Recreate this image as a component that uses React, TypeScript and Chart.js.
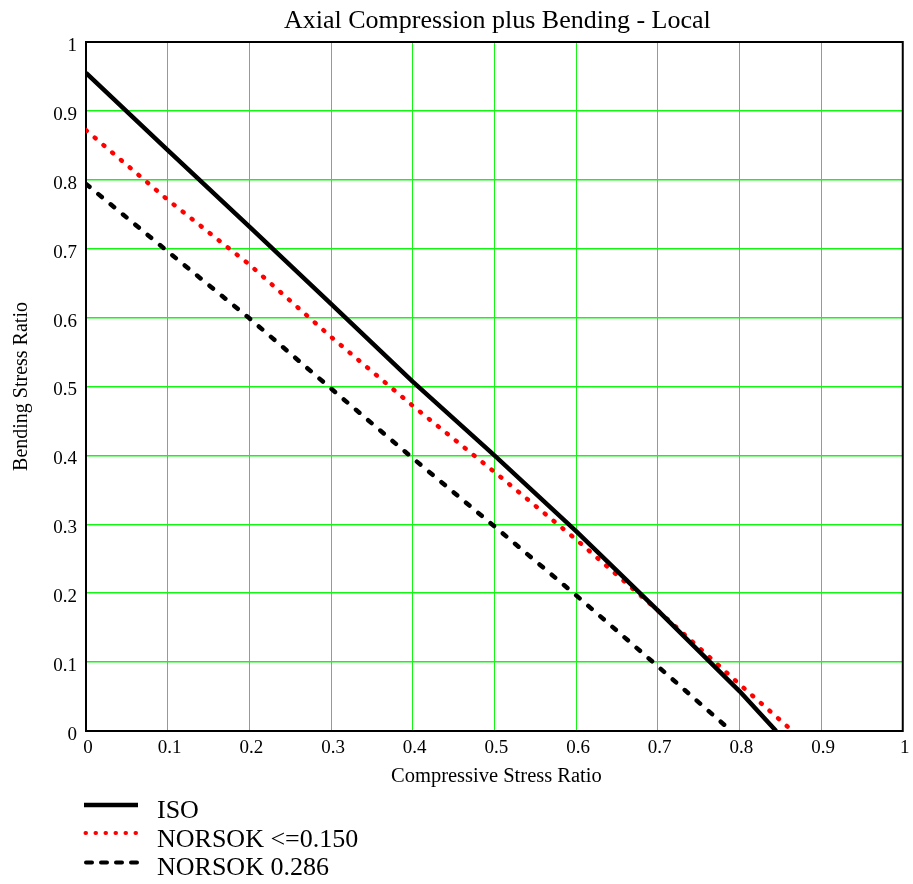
import React, { useEffect, useRef } from 'react';
import { Chart, registerables } from 'chart.js';

Chart.register(...registerables);

const FONT = "'Liberation Serif', 'Times New Roman', serif";

const chartTitle = 'Axial Compression plus Bending - Local';
const xAxisTitle = 'Compressive Stress Ratio';
const yAxisTitle = 'Bending Stress Ratio';

const xTickLabels = ['0', '0.1', '0.2', '0.3', '0.4', '0.5', '0.6', '0.7', '0.8', '0.9', '1'];
const yTickLabels = ['0', '0.1', '0.2', '0.3', '0.4', '0.5', '0.6', '0.7', '0.8', '0.9', '1'];

const seriesNames = ['ISO', 'NORSOK <=0.150', 'NORSOK 0.286'];

const isoX = [0, 0.1, 0.2, 0.3, 0.4, 0.5, 0.6, 0.7, 0.8, 0.845];
const isoY = [0.955, 0.843, 0.732, 0.62, 0.507, 0.4, 0.29, 0.175, 0.058, 0];

const norsok150X = [0, 0.1, 0.2, 0.3, 0.4, 0.5, 0.6, 0.7, 0.8, 0.865];
const norsok150Y = [0.872, 0.771, 0.677, 0.572, 0.472, 0.376, 0.278, 0.175, 0.068, 0];

const norsok286X = [0, 0.1, 0.2, 0.3, 0.4, 0.5, 0.6, 0.7, 0.79];
const norsok286Y = [0.794, 0.696, 0.599, 0.497, 0.396, 0.297, 0.197, 0.094, 0];

const seriesStyles = [
  { color: '#000000', width: 4.5, dash: [] as number[], cap: 'butt' as CanvasLineCap },
  { color: '#ff0000', width: 4.5, dash: [1, 10.5], cap: 'round' as CanvasLineCap },
  { color: '#000000', width: 4.5, dash: [4.5, 11.5], cap: 'round' as CanvasLineCap },
];

const GRID = 'rgb(20,245,20)';

const toPoints = (xs: number[], ys: number[]) => xs.map((x, i) => ({ x, y: ys[i] }));

const decorPlugin = {
  id: 'decor',
  beforeDatasetsDraw(chart: any) {
    const { ctx, chartArea: a } = chart;
    ctx.save();
    ctx.strokeStyle = '#000';
    ctx.lineWidth = 2;
    ctx.strokeRect(a.left, a.top, a.right - a.left, a.bottom - a.top);
    ctx.restore();
  },
  afterDraw(chart: any) {
    const { ctx, chartArea: a } = chart;
    const cx = (a.left + a.right) / 2;
    ctx.save();
    ctx.fillStyle = '#000';
    ctx.textAlign = 'center';
    ctx.textBaseline = 'alphabetic';
    ctx.font = `26px ${FONT}`;
    ctx.fillText(chartTitle, cx + 3, 28);
    ctx.font = `20.5px ${FONT}`;
    ctx.fillText(xAxisTitle, cx + 2, a.bottom + 51);
    ctx.save();
    ctx.translate(27, (a.top + a.bottom) / 2);
    ctx.rotate(-Math.PI / 2);
    ctx.font = `20px ${FONT}`;
    ctx.fillText(yAxisTitle, 0, 0);
    ctx.restore();

    // legend
    const lineY = [805, 833, 862.5];
    const textY = [818.3, 846.7, 875];
    ctx.textAlign = 'left';
    ctx.font = `26px ${FONT}`;
    seriesNames.forEach((name, i) => {
      const s = seriesStyles[i];
      ctx.save();
      ctx.strokeStyle = s.color;
      ctx.lineWidth = i === 0 ? 4.5 : 4;
      ctx.lineCap = s.cap;
      ctx.beginPath();
      if (i === 1) {
        ctx.setLineDash([0.5, 9.5]);
        ctx.moveTo(85.5, lineY[i]);
        ctx.lineTo(137, lineY[i]);
      } else if (i === 2) {
        ctx.setLineDash([6, 9]);
        ctx.moveTo(86, lineY[i]);
        ctx.lineTo(137, lineY[i]);
      } else {
        ctx.setLineDash([]);
        ctx.moveTo(84, lineY[i]);
        ctx.lineTo(138, lineY[i]);
      }
      ctx.stroke();
      ctx.restore();
      ctx.fillStyle = '#000';
      ctx.fillText(name, 157, textY[i]);
    });
    ctx.restore();
  },
};

export default function App() {
  const ref = useRef<HTMLCanvasElement>(null);

  useEffect(() => {
    if (!ref.current) return;
    const seriesData = [
      toPoints(isoX, isoY),
      toPoints(norsok150X, norsok150Y),
      toPoints(norsok286X, norsok286Y),
    ];
    const chart = new Chart(ref.current, {
      type: 'scatter',
      data: {
        datasets: seriesNames.map((name, i) => ({
          label: name,
          data: seriesData[i],
          showLine: true,
          fill: false,
          tension: 0,
          pointRadius: 0,
          pointHoverRadius: 0,
          borderColor: seriesStyles[i].color,
          backgroundColor: seriesStyles[i].color,
          borderWidth: seriesStyles[i].width,
          borderDash: seriesStyles[i].dash,
          borderCapStyle: seriesStyles[i].cap,
          borderJoinStyle: 'round',
        })),
      },
      options: {
        responsive: false,
        animation: false,
        devicePixelRatio: 1,
        layout: { padding: { top: 42, right: 7, left: 0, bottom: 0 } },
        plugins: {
          legend: { display: false },
          title: { display: false },
          tooltip: { enabled: false },
        },
        events: [],
        scales: {
          x: {
            type: 'linear',
            min: 0,
            max: 1,
            afterFit: (s: any) => { s.height = 153; },
            ticks: {
              stepSize: 0.1,
              autoSkip: false,
              maxRotation: 0,
              minRotation: 0,
              padding: 5.5,
              labelOffset: 2,
              color: '#000',
              font: { family: FONT, size: 19, lineHeight: 1.2 },
              callback: (_v: any, i: number) => xTickLabels[i],
            },
            grid: { color: GRID, lineWidth: 1, drawTicks: false },
            border: { display: false },
          },
          y: {
            type: 'linear',
            min: 0,
            max: 1,
            afterFit: (s: any) => { s.width = 86; },
            ticks: {
              stepSize: 0.1,
              autoSkip: false,
              padding: 9,
              labelOffset: 4,
              color: '#000',
              font: { family: FONT, size: 19, lineHeight: 1.2 },
              callback: (_v: any, i: number) => yTickLabels[i],
            },
            grid: { color: GRID, lineWidth: 1.5, drawTicks: false },
            border: { display: false },
          },
        },
      },
      plugins: [decorPlugin],
    } as any);
    return () => chart.destroy();
  }, []);

  return (
    <div style={{ position: 'fixed', left: 0, top: 0, width: 913, height: 884, background: '#fff' }}>
      <canvas ref={ref} width={913} height={884} style={{ width: 913, height: 884, display: 'block' }} />
    </div>
  );
}
